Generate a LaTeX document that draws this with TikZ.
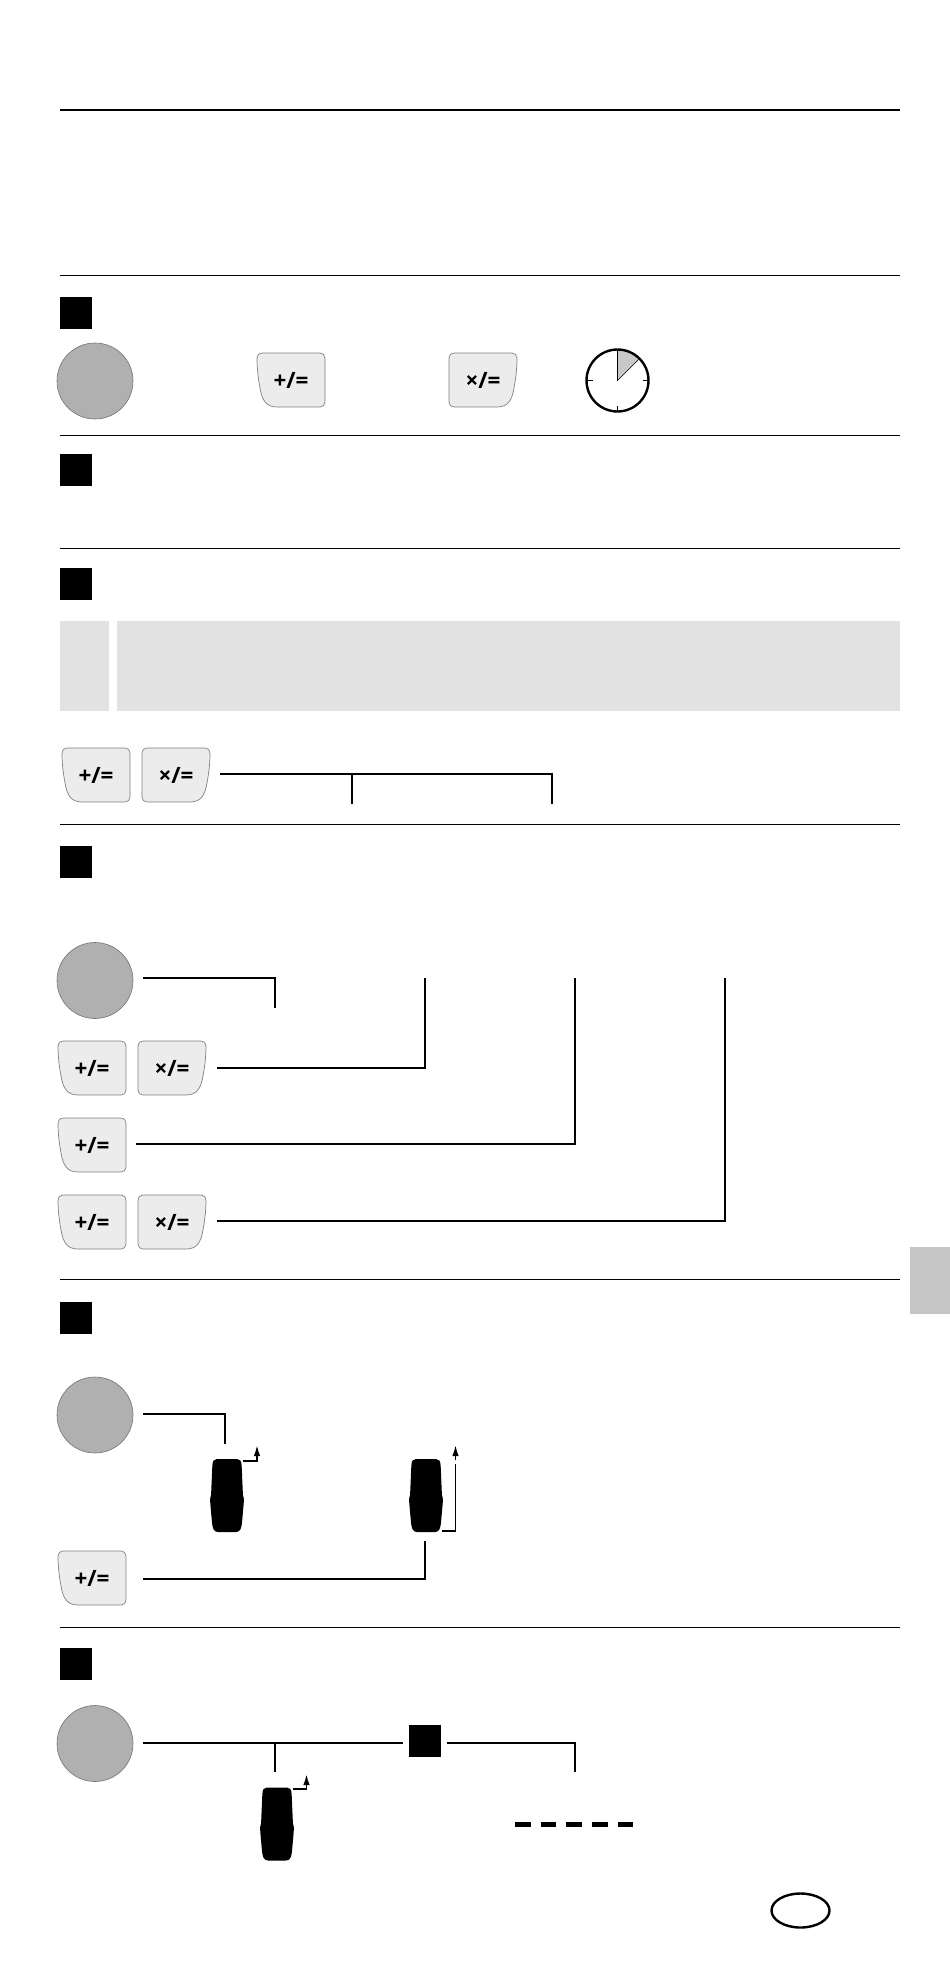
\documentclass[tikz,border=0pt]{standalone}
\usepackage{fontspec}
\setsansfont{Open Sans}
\usetikzlibrary{arrows.meta,shapes.geometric}
\definecolor{keygrey}{HTML}{ECECEC}
\definecolor{dialgrey}{HTML}{B0B0B0}
\definecolor{bandgrey}{HTML}{E2E2E2}
\definecolor{tabgrey}{HTML}{C5C6C5}
\definecolor{wedgegrey}{HTML}{C8C8C8}
\tikzset{
  rulethin/.style={line width=1.4pt},
  wire/.style={line width=2pt},
  lift/.style={line width=1.7pt},
  tip/.style={-{Latex[length=11pt,width=6.5pt]}},
  dial/.style={circle,draw=black!55,line width=.6pt,fill=dialgrey,minimum size=76pt,inner sep=0pt,outer sep=0pt},
  numbox/.style={fill=black,minimum size=32pt,inner sep=0pt,outer sep=0pt},
  keyface/.style={fill=keygrey,draw=black!50,line width=.7pt},
  keylabel/.style={minimum width=68pt,minimum height=54pt,inner sep=0pt,outer sep=0pt,font=\sffamily\bfseries\fontsize{22.5}{22.5}\selectfont},
  tyrebox/.style={minimum width=34pt,minimum height=73pt,inner sep=0pt,outer sep=0pt}
}
\newcommand{\keypath}{(-29,-27) -- (29,-27) .. controls (32,-27) and (34,-25) .. (34,-22)
  -- (34,22) .. controls (34,25) and (32,27) .. (29,27) -- (-14,27)
  .. controls (-25,27) and (-29,20) .. (-31,8) .. controls (-33,-3) and (-34,-12) .. (-34,-22)
  .. controls (-34,-25) and (-32,-27) .. (-29,-27) -- cycle}
\newcommand{\pluskey}[3]{
  \draw[keyface,shift={(#2,#3)}] \keypath;
  \node (#1) at (#2,#3) [keylabel] {+/=};
}
\newcommand{\timeskey}[3]{
  \draw[keyface,shift={(#2,#3)},xscale=-1] \keypath;
  \node (#1) at (#2,#3) [keylabel] {×/=};
}
\newcommand{\tyre}[3]{
  \fill[shift={(#2,#3)}] (-10,-36.5) -- (10,-36.5) .. controls (13,-36.5) and (14.5,-35) .. (14.7,-29)
    -- (15.9,-1) -- (16.9,3.5) -- (16.7,8) -- (15,27) .. controls (14.5,33) and (13,36.5) .. (9,36.5)
    -- (-9,36.5) .. controls (-13,36.5) and (-14.5,33) .. (-15,27) -- (-16.7,8) -- (-16.9,3.5)
    -- (-15.9,-1) -- (-14.7,-29) .. controls (-14.5,-35) and (-13,-36.5) .. (-10,-36.5) -- cycle;
  \node (#1) at (#2,#3) [tyrebox] {};
}

\begin{document}
\begin{tikzpicture}[x=1pt,y=-1pt]
\useasboundingbox (0,0) rectangle (950,1970);

% rules
\draw[line width=2pt] (60,110) -- (900,110);
\foreach \y in {275.5,435.5,548.5,824.5,1279.5,1627.5}
  \draw[rulethin] (60,\y) -- (900,\y);

% section boxes
\foreach \n/\y in {A/313,B/470,C/584,D/862,E/1318,F/1664}
  \node (box\n) at (76,\y) [numbox] {};

% grey band and side tab
\fill[bandgrey] (59.5,621) rectangle (109,711);
\fill[bandgrey] (117,621) rectangle (900,711);
\fill[tabgrey] (910,1247) rectangle (950,1314);

% first row
\node (dialA) at (95,381) [dial] {};
\pluskey{keyAa}{291}{380}
\timeskey{keyAb}{483}{380}
\node (clock) at (617.5,380.5) [circle,minimum size=62pt,inner sep=0pt,outer sep=0pt] {};
\filldraw[fill=wedgegrey,line width=.6pt] (clock.center) -- (clock.north) arc[start angle=-90,end angle=-45,radius=31] -- cycle;
\draw[line width=2.4pt] (clock.center) circle[radius=31];
\draw[line width=1.5pt] (clock.south) -- ++(0,-6) (clock.north) -- ++(0,6) (clock.east) -- ++(-6,0) (clock.west) -- ++(6,0);

% key row with bracket
\pluskey{keyCa}{96}{775}
\timeskey{keyCb}{176}{775}
\coordinate (tickCa) at (352,804);
\coordinate (tickCb) at (552,804);
\draw[wire] ([shift={(10,-1)}]keyCb.east) -| (tickCb);
\draw[wire] (tickCa) -- ++(0,-30);

% four key sequences
\node (dialD) at (95,980.5) [dial] {};
\pluskey{keyDa}{92}{1068}
\timeskey{keyDb}{172}{1068}
\pluskey{keyDc}{92}{1145}
\pluskey{keyDd}{92}{1222}
\timeskey{keyDe}{172}{1222}
\coordinate (topDa) at (275,1008);
\coordinate (topDb) at (425,978);
\coordinate (topDc) at (575,978);
\coordinate (topDd) at (725,978);
\draw[wire] ([shift={(10,-2.5)}]dialD.east) -| (topDa);
\draw[wire] ([shift={(11,0)}]keyDb.east) -| (topDb);
\draw[wire] ([shift={(10,-1)}]keyDc.east) -| (topDc);
\draw[wire] ([shift={(11,-1)}]keyDe.east) -| (topDd);

% tyres
\node (dialE) at (95,1415) [dial] {};
\tyre{tyreEa}{227}{1495.5}
\tyre{tyreEb}{426}{1495.5}
\pluskey{keyE}{92}{1578}
\coordinate (topEa) at (225,1444);
\coordinate (topEb) at (425,1541);
\draw[wire] ([shift={(10,-1)}]dialE.east) -| (topEa);
\draw[wire] ([shift={(17,1)}]keyE.east) -| (topEb);
\coordinate (liftEa) at (257,1445);
\coordinate (liftEb) at (455.5,1445);
\coordinate (gapEb) at (455.5,1464);
\draw[lift,tip] ([shift={(-1,-34.5)}]tyreEa.east) -| (liftEa);
\draw[lift] ([shift={(-1.5,35.5)}]tyreEb.east) -| (gapEb);
\draw[lift,tip] (455.5,1460) -- (liftEb);

% last row
\node (dialF) at (95,1743.5) [dial] {};
\node (boxG) at (425,1741) [numbox] {};
\tyre{tyreF}{277}{1824}
\coordinate (busFa) at (143,1743);
\coordinate (busFb) at (403,1743);
\coordinate (busFc) at (447,1743);
\coordinate (topFa) at (275,1772);
\coordinate (topFb) at (575,1772);
\coordinate (liftF) at (306.5,1774);
\draw[wire] (busFa) -- (busFb);
\draw[wire] (topFa) -- ++(0,-29);
\draw[wire] (busFc) -| (topFb);
\draw[lift,tip] ([shift={(-1,-35)}]tyreF.east) -| (liftF);
\coordinate (dashFa) at (515,1824);
\coordinate (dashFb) at (634,1824);
\draw[line width=5pt,dash pattern=on 15.6pt off 10.1pt] (dashFa) -- (dashFb);

% country oval
\node (oval) at (800.5,1910.5) [ellipse,draw,line width=2.4pt,minimum width=58pt,minimum height=34pt,inner sep=0pt] {};
\end{tikzpicture}
\end{document}
